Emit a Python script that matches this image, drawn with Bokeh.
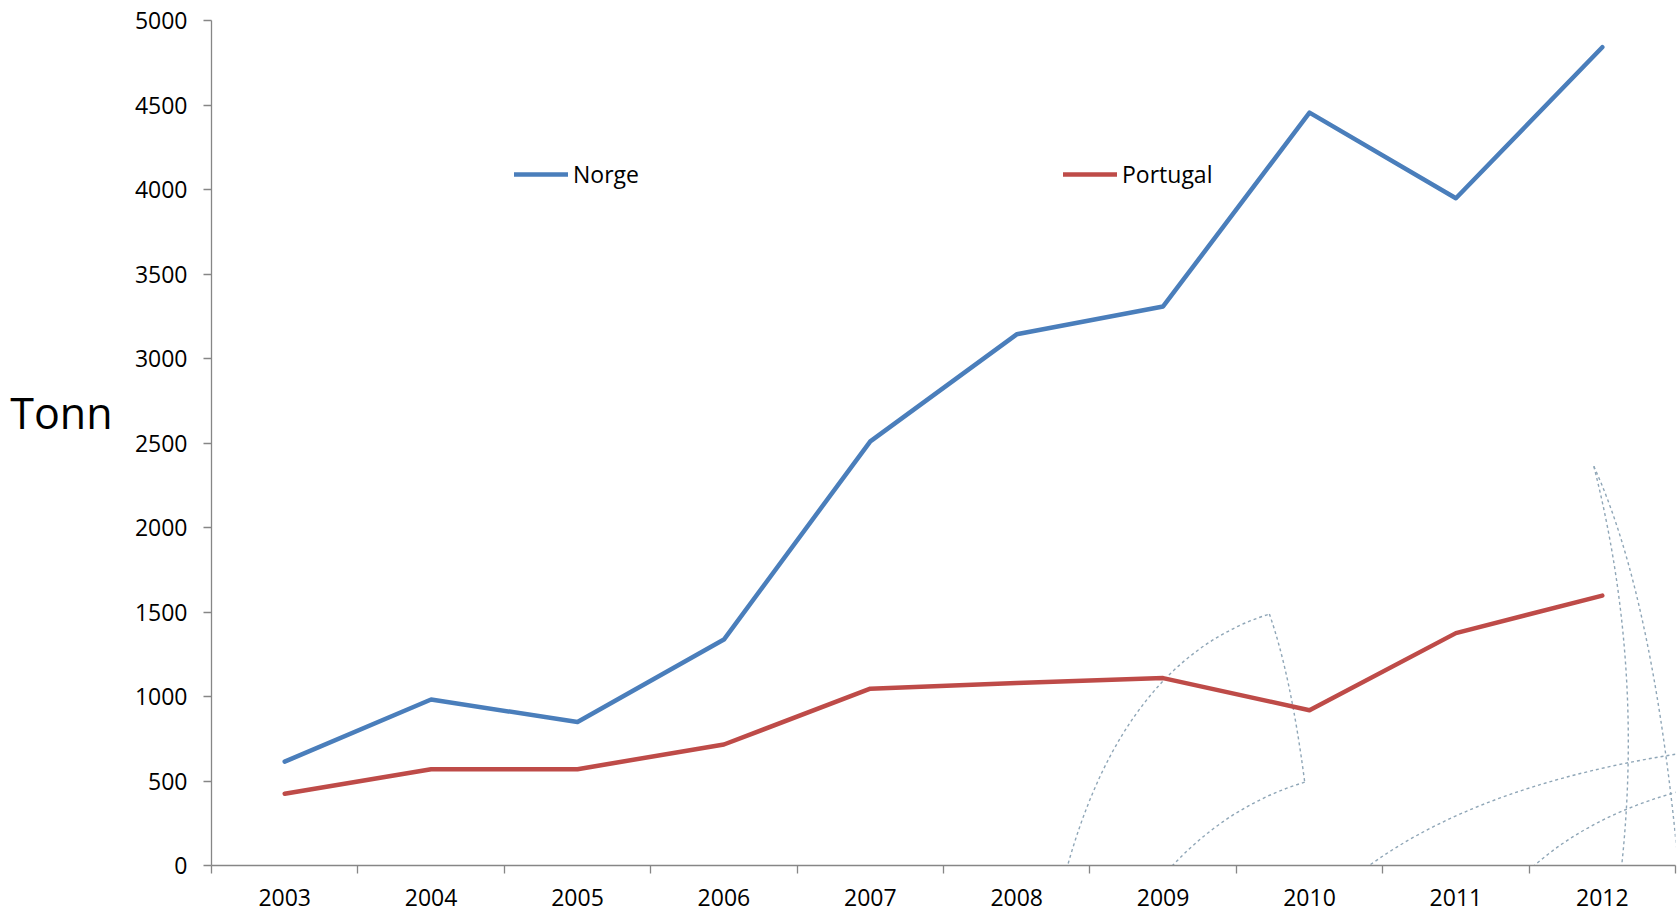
from bokeh.plotting import figure
from bokeh.models import Range1d, FixedTicker, Legend, LegendItem, LinearAxis
from bokeh.embed import file_html
from bokeh.resources import INLINE

years = [2003, 2004, 2005, 2006, 2007, 2008, 2009, 2010, 2011, 2012]
norge = [615, 982, 849, 1337, 2510, 3143, 3308, 4455, 3948, 4842]
portugal = [425, 570, 570, 716, 1046, 1080, 1109, 919, 1375, 1597]
y_ticks = [0, 500, 1000, 1500, 2000, 2500, 3000, 3500, 4000, 4500, 5000]
y_label = "Tonn"
series_names = ["Norge", "Portugal"]

FONT = "Open Sans"
AXIS_COLOR = "#868686"

n = len(years)
xs = [i + 0.5 for i in range(n)]

p = figure(width=1679, height=916, frame_width=1464, frame_height=845,
           output_backend="svg", toolbar_location=None,
           x_range=Range1d(0, n), y_range=Range1d(0, 5000),
           min_border_left=211, min_border_right=4, min_border_top=20,
           min_border_bottom=51)
p.title = None
p.outline_line_color = None
p.xgrid.visible = False
p.ygrid.visible = False
p.background_fill_color = "white"
p.border_fill_color = "white"

# decorative dashed arcs (background ornament of the original slide)
def to_data(px, py):
    # page pixel coords of the reference -> data coords
    return ((px - 211) / 146.4, (865 - py) / 845 * 5000)

S = 1679 / 1568
deco = [
    ((985, 855), (1035, 620), (1185, 573)),
    ((1185, 573), (1205, 630), (1218, 730)),
    ((1218, 730), (1120, 760), (1058, 855)),
    ((1488, 435), (1545, 560), (1568, 820)),
    ((1488, 435), (1540, 640), (1508, 855)),
    ((1225, 855), (1330, 740), (1570, 703)),
    ((1390, 855), (1450, 770), (1570, 738)),
]
x0s, y0s, cxs, cys, x1s, y1s = [], [], [], [], [], []
for a, c, b in deco:
    ax, ay = to_data(a[0] * S, a[1] * S)
    cx, cy = to_data(c[0] * S, c[1] * S)
    bx, by = to_data(b[0] * S, b[1] * S)
    x0s.append(ax); y0s.append(ay); cxs.append(cx); cys.append(cy); x1s.append(bx); y1s.append(by)
p.quadratic(x0=x0s, y0=y0s, x1=x1s, y1=y1s, cx=cxs, cy=cys,
            line_color="#8fa6b7", line_width=1.4, line_dash="3 3")

r1 = p.line(xs, norge, line_width=4.5, line_color="#4A7EBB",
            line_join="round", line_cap="round")
r2 = p.line(xs, portugal, line_width=4.5, line_color="#BE4B48",
            line_join="round", line_cap="round")

legend = Legend(items=[LegendItem(label=series_names[0], renderers=[r1]),
                       LegendItem(label=series_names[1], renderers=[r2])],
                orientation="horizontal", location=(303, 675),
                glyph_width=54, glyph_height=20, label_height=20,
                label_width=490, label_standoff=5, padding=0, spacing=0,
                border_line_color=None, background_fill_alpha=0,
                label_text_font=FONT, label_text_font_size="23px",
                label_text_color="black")
p.add_layout(legend)

# axes
xa = p.xaxis[0]
xa.ticker = FixedTicker(ticks=xs, minor_ticks=list(range(n + 1)))
xa.major_label_overrides = {x: str(y) for x, y in zip(xs, years)}
xa.major_tick_line_color = None
xa.major_tick_out = 8
xa.major_tick_in = 0
xa.minor_tick_out = 8
xa.minor_tick_in = 0
xa.minor_tick_line_color = AXIS_COLOR
xa.minor_tick_line_width = 1.3
xa.axis_line_color = AXIS_COLOR
xa.axis_line_width = 1.3
xa.major_label_text_font = FONT
xa.major_label_text_font_size = "23px"
xa.major_label_text_color = "black"
xa.major_label_standoff = 15

ya = p.yaxis[0]
ya.ticker = FixedTicker(ticks=y_ticks, minor_ticks=[])
ya.major_tick_out = 8
ya.major_tick_in = 0
ya.major_tick_line_color = AXIS_COLOR
ya.major_tick_line_width = 1.3
ya.minor_tick_line_color = None
ya.axis_line_color = AXIS_COLOR
ya.axis_line_width = 1.3
ya.major_label_text_font = FONT
ya.major_label_text_font_size = "23px"
ya.major_label_text_color = "black"
ya.major_label_standoff = 16

# horizontal "Tonn" title as an extra, bare left axis
TONN_Y = 2680
tonn_axis = LinearAxis(ticker=FixedTicker(ticks=[TONN_Y], minor_ticks=[]),
                       major_label_overrides={TONN_Y: y_label},
                       axis_line_color=None, major_tick_line_color=None,
                       minor_tick_line_color=None, major_tick_out=0,
                       major_tick_in=0, major_label_standoff=19,
                       major_label_text_font=FONT,
                       major_label_text_font_size="43px",
                       major_label_text_color="black")
p.add_layout(tonn_axis, "left")

open("out.html", "w").write(file_html(p, INLINE))
